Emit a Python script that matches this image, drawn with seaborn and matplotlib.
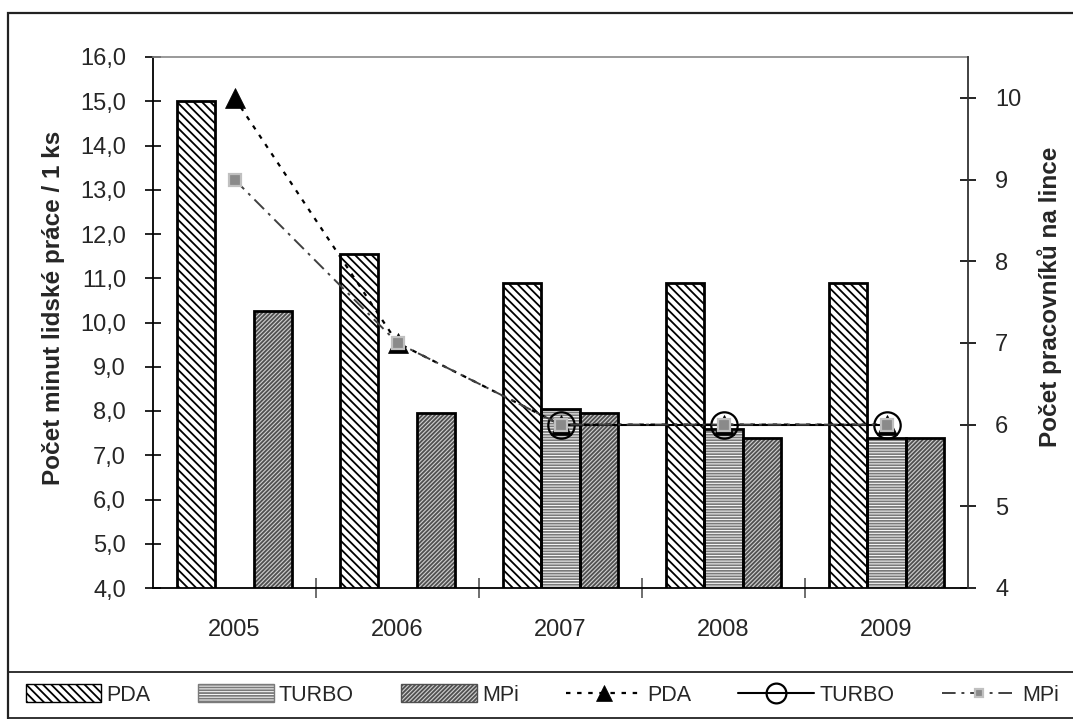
import numpy as np
import pandas as pd
import matplotlib
matplotlib.use("Agg")
import matplotlib.pyplot as plt
import seaborn as sns
from matplotlib.patches import Rectangle, Patch
from matplotlib.lines import Line2D
from matplotlib.ticker import FixedLocator, FuncFormatter

# ---------------- data ----------------
years = ["2005", "2006", "2007", "2008", "2009"]
series = ["PDA", "TURBO", "MPi"]
minutes_pda = [15.0, 11.55, 10.9, 10.9, 10.9]
minutes_turbo = [np.nan, np.nan, 8.05, 7.6, 7.4]
minutes_mpi = [10.25, 7.95, 7.95, 7.4, 7.4]
workers_pda = [10, 7, 6, 6, 6]
workers_turbo = [np.nan, np.nan, 6, 6, 6]
workers_mpi = [9, 7, 6, 6, 6]
left_ticks = [4, 5, 6, 7, 8, 9, 10, 11, 12, 13, 14, 15, 16]
right_ticks = [4, 5, 6, 7, 8, 9, 10]
left_label = "Počet minut lidské práce / 1 ks"
right_label = "Počet pracovníků na lince"

# ---------------- style ----------------
sns.set_theme(style="white")
plt.rcParams["font.family"] = ["Liberation Sans", "DejaVu Sans"]
plt.rcParams["hatch.linewidth"] = 1.3
FS = 17

W, H = 1073, 719
fig = plt.figure(figsize=(W / 100, H / 100), dpi=100)
ax = fig.add_axes([153 / W, 1 - 588 / H, (968 - 153) / W, (588 - 57) / H])

df = pd.DataFrame({
    "year": years * 3,
    "series": np.repeat(series, len(years)),
    "value": minutes_pda + minutes_turbo + minutes_mpi,
})
sns.barplot(data=df, x="year", y="value", hue="series", order=years,
            hue_order=series, width=0.7, saturation=1, errorbar=None,
            legend=False, ax=ax)

bar_styles = {
    "PDA": dict(face="white", hatch="\\\\\\\\", hc="black"),
    "TURBO": dict(face="white", hatch="------", hc="#7a7a7a"),
    "MPi": dict(face="#d0d0d0", hatch="////////", hc="#505050"),
}
for name, cont in zip(series, ax.containers):
    st = bar_styles[name]
    for p in cont.patches:
        h = p.get_height()
        if not np.isfinite(h) or h == 0:
            p.set_visible(False)
            continue
        p.set_facecolor(st["face"])
        p.set_edgecolor(st["hc"])
        p.set_hatch(st["hatch"])
        p.set_linewidth(0)
        ax.add_patch(Rectangle(p.get_xy(), p.get_width(), h, fill=False,
                               edgecolor="black", linewidth=2.0,
                               zorder=p.get_zorder() + 0.1))

ax.set_ylim(4, 16)
ax.yaxis.set_major_locator(FixedLocator(left_ticks))
ax.yaxis.set_major_formatter(FuncFormatter(lambda v, _: f"{v:.1f}".replace(".", ",")))
ax.tick_params(axis="y", which="major", direction="inout", length=11, width=1.2,
               color="black", labelsize=FS, pad=14, left=True)
ax.tick_params(axis="x", which="major", length=0, labelsize=FS, pad=22)
ax.xaxis.set_minor_locator(FixedLocator([0.5, 1.5, 2.5, 3.5]))
ax.tick_params(axis="x", which="minor", direction="inout", length=14, width=1.2,
               color="#555555", bottom=True)
ax.set_xlabel("")
ax.set_ylabel("")
for s in ["left", "bottom"]:
    ax.spines[s].set_color("black")
    ax.spines[s].set_linewidth(1.3)
ax.spines["top"].set_color("#888888")
ax.spines["top"].set_linewidth(1.2)
ax.spines["right"].set_visible(False)

# ---------------- lines on secondary axis ----------------
ax2 = ax.twinx()
xpos = np.arange(len(years))

sns.lineplot(x=xpos, y=workers_turbo, ax=ax2, color="black", linewidth=1.5,
             marker="o", markersize=19, markerfacecolor="none",
             markeredgecolor="black", markeredgewidth=1.6)
turbo_line = ax2.lines[-1]

sns.lineplot(x=xpos, y=workers_pda, ax=ax2, color="black", linewidth=1.6,
             linestyle=":", marker="^", markersize=15,
             markerfacecolor="black", markeredgecolor="black",
             markeredgewidth=0.5)
pda_line = ax2.lines[-1]
pda_line.set_dashes((2, 3))

sns.lineplot(x=xpos, y=workers_mpi, ax=ax2, color="#404040", linewidth=1.4,
             marker="s", markersize=8, markerfacecolor="#8a8a8a",
             markeredgecolor="#c0c0c0", markeredgewidth=1.6)
mpi_line = ax2.lines[-1]
mpi_line.set_dashes((7, 3, 1.5, 3))

ax2.set_ylim(4, 10.5)
ax2.yaxis.set_major_locator(FixedLocator(right_ticks))
ax2.yaxis.set_major_formatter(FuncFormatter(lambda v, _: f"{v:.0f}"))
ax2.tick_params(axis="y", direction="inout", length=11, width=1.2, color="black",
                labelsize=FS, pad=14, right=True)
ax2.set_ylabel("")
ax2.set_xlabel("")
ax2.spines["right"].set_color("#333333")
ax2.spines["right"].set_linewidth(1.3)
for s in ["left", "top", "bottom"]:
    ax2.spines[s].set_visible(False)
ax.set_xlim(-0.5, len(years) - 0.5)

# ---------------- axis titles ----------------
fig.text(54 / W, 1 - 308 / H, left_label, rotation=90, ha="center", va="center",
         fontsize=17.5, fontweight="bold")
fig.text(1050 / W, 1 - 297 / H, right_label, rotation=90, ha="center", va="center",
         fontsize=17.5, fontweight="bold")

# ---------------- frames ----------------
fig.add_artist(Rectangle((8 / W, -0.05), 1.1, 1 - 13 / H + 0.05,
                         transform=fig.transFigure, fill=False,
                         edgecolor="#222222", linewidth=1.6, clip_on=False))
fig.add_artist(Rectangle((8 / W, 1 - 718 / H), 1.1, 46 / H,
                         transform=fig.transFigure, fill=False,
                         edgecolor="#222222", linewidth=1.3, clip_on=False))

# ---------------- legend ----------------
handles = []
for name in series:
    st = bar_styles[name]
    handles.append(Patch(facecolor=st["face"], edgecolor=st["hc"],
                         hatch=st["hatch"], linewidth=1.0))
for ln in [pda_line, turbo_line, mpi_line]:
    h = Line2D([], [], color=ln.get_color(), linewidth=ln.get_linewidth(),
               marker=ln.get_marker(), markersize=ln.get_markersize() * 0.75,
               markerfacecolor=ln.get_markerfacecolor(),
               markeredgecolor=ln.get_markeredgecolor(),
               markeredgewidth=ln.get_markeredgewidth())
    h.set_linestyle(ln.get_linestyle())
    handles.append(h)
handles[3].set_dashes((2, 3))
handles[5].set_dashes((7, 3, 1.5, 3))
labels = series + series
fig.legend(handles, labels, loc="center left",
           bbox_to_anchor=(26 / W, 1 - 695 / H), ncol=6, frameon=False,
           fontsize=15.5, handlelength=3.5, handleheight=0.9,
           handletextpad=0.25, columnspacing=2.2, borderaxespad=0,
           borderpad=0)

fig.savefig("out.png", dpi=100)
